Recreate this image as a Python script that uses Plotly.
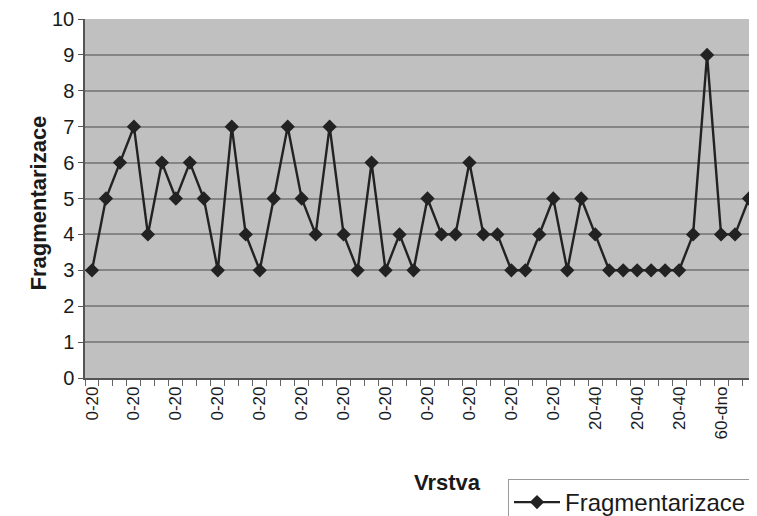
import plotly.graph_objects as go

# Fragmentarizace per sample, in order along the x axis
values = [3, 5, 6, 7, 4, 6, 5, 6, 5, 3, 7, 4, 3, 5, 7, 5, 4, 7, 4, 3, 6, 3, 4, 3,
          5, 4, 4, 6, 4, 4, 3, 3, 4, 5, 3, 5, 4, 3, 3, 3, 3, 3, 3, 4, 9, 4, 4, 5]
layers = ["0-20"] * 36 + ["20-40"] * 9 + ["60-dno"] * 3
label_step = 3

x = list(range(len(values)))
tick_pos = x[::label_step]
tick_text = layers[::label_step]

# the page has an 8 px body margin, so the figure is drawn 8 px in from the
# top-left corner of the window; positions below are window pixels
OFF = 8
L, R, T, B = 85, 756, 19, 378
W, H = 757 - OFF, 516 - OFF


def px(xw):
    return (xw - L) / (R - L)


def py(yw):
    return (B - yw) / (B - T)


fig = go.Figure()
fig.add_trace(
    go.Scatter(
        x=x,
        y=values,
        mode="lines+markers",
        name="Fragmentarizace",
        line=dict(color="#222222", width=2.4),
        marker=dict(symbol="diamond", size=11, color="#222222"),
    )
)

fig.update_layout(
    width=W,
    height=H,
    margin=dict(l=L - OFF, r=W - (R - OFF), t=T - OFF, b=H - (B - OFF), autoexpand=False),
    paper_bgcolor="white",
    plot_bgcolor="#c0c0c0",
    font=dict(family="Liberation Sans, Arial, sans-serif", color="#1a1a1a"),
    showlegend=True,
    legend=dict(
        x=px(508), y=py(479), xanchor="left", yanchor="top",
        bordercolor="#9a9a9a", borderwidth=1,
        font=dict(size=24), bgcolor="white",
        itemwidth=46,
    ),
    annotations=[
        dict(text="<b>Vrstva</b>", xref="paper", yref="paper",
             x=px(447), y=py(497),
             showarrow=False, font=dict(size=22)),
        dict(text="<b>Fragmentarizace</b>", xref="paper", yref="paper",
             x=px(23), y=py(203), textangle=-90,
             showarrow=False, font=dict(size=22)),
    ],
)

fig.update_xaxes(
    range=[-0.5, 47.5],
    automargin=False,
    tickmode="array",
    tickvals=tick_pos,
    ticktext=tick_text,
    tickangle=-90,
    ticks="",
    tickfont=dict(size=17),
    showgrid=False,
    zeroline=False,
    showline=True,
    linecolor="#555555",
    linewidth=1.5,
    minor=dict(ticks="outside", tick0=-0.5, dtick=1, ticklen=6,
               tickcolor="#666666", showgrid=False),
)
fig.update_yaxes(
    range=[0, 10],
    automargin=False,
    tickmode="linear",
    tick0=0,
    dtick=1,
    ticks="outside",
    ticklen=5,
    tickcolor="#555555",
    tickfont=dict(size=20),
    ticklabeloverflow="allow",
    showgrid=True,
    gridcolor="#858585",
    gridwidth=1.5,
    zeroline=False,
    showline=True,
    linecolor="#555555",
    linewidth=1.5,
)

fig.write_html("out.html")
